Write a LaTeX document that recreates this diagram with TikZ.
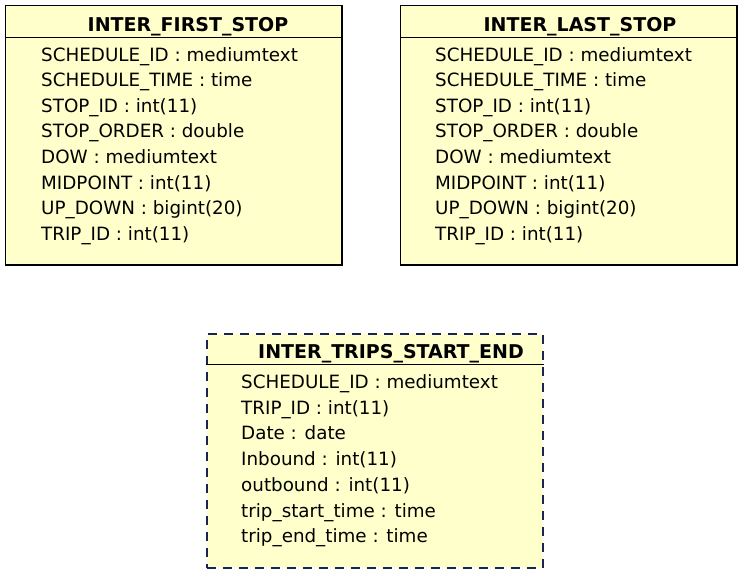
\documentclass[tikz,border=0pt]{standalone}
\usepackage{fontspec}
\setmainfont{DejaVu Sans}
\definecolor{tblFill}{RGB}{255,255,204}
\definecolor{tblDash}{RGB}{25,35,85}

\begin{document}
\begin{tikzpicture}[x=1pt,y=-1pt]
 \tikzset{
  tblBox/.style={rectangle, draw=black, fill=tblFill, line width=0.8pt, anchor=north west, minimum width=336pt},
  tblHead/.style={anchor=base, font=\fontsize{19}{22}\selectfont\bfseries, inner sep=0pt},
  tblAttr/.style={anchor=base west, font=\fontsize{18.3}{22}\selectfont, inner sep=0pt}
  }
  \useasboundingbox (0,0) rectangle (742,574);

  % first stop table
  \node[tblBox, minimum height=259pt] (fsBox) at (5,5) {};
  \draw[line width=2pt] (fsBox.north east) -- (fsBox.south east) -- (fsBox.south west);
  \draw[line width=0.8pt] ([yshift=-32pt]fsBox.north west) -- ([yshift=-32pt]fsBox.north east);
  \node[tblHead] (fsHead) at (188,31) {INTER\_FIRST\_STOP};
  \foreach \txt [count=\i] in {SCHEDULE\_ID : mediumtext, SCHEDULE\_TIME : time,
    STOP\_ID : int(11), STOP\_ORDER : double, DOW : mediumtext, MIDPOINT : int(11),
    UP\_DOWN : bigint(20), TRIP\_ID : int(11)}
    \node[tblAttr] (fs\i) at (41,35.4+25.6*\i) {\txt};

  % last stop table
  \node[tblBox, minimum height=259pt] (lsBox) at (400,5) {};
  \draw[line width=2pt] (lsBox.north east) -- (lsBox.south east) -- (lsBox.south west);
  \draw[line width=0.8pt] ([yshift=-32pt]lsBox.north west) -- ([yshift=-32pt]lsBox.north east);
  \node[tblHead] (lsHead) at (580,31) {INTER\_LAST\_STOP};
  \foreach \txt [count=\i] in {SCHEDULE\_ID : mediumtext, SCHEDULE\_TIME : time,
    STOP\_ID : int(11), STOP\_ORDER : double, DOW : mediumtext, MIDPOINT : int(11),
    UP\_DOWN : bigint(20), TRIP\_ID : int(11)}
    \node[tblAttr] (ls\i) at (435,35.4+25.6*\i) {\txt};

  % trips start/end table
  \node[tblBox, minimum height=234pt, draw=tblDash, line width=1.6pt,
    dash pattern=on 9pt off 7pt] (teBox) at (206,333) {};
  \draw[line width=0.8pt] ([yshift=-31pt]teBox.north west) -- ([yshift=-31pt]teBox.north east);
  \node[tblHead] (teHead) at (391,358.5) {INTER\_TRIPS\_START\_END};
  \foreach \txt [count=\i] in {SCHEDULE\_ID : mediumtext, TRIP\_ID : int(11),
    Date : date, Inbound : int(11), outbound : int(11), trip\_start\_time : time,
    trip\_end\_time : time}
    \node[tblAttr] (te\i) at (241,362.8+25.7*\i) {\txt};

\end{tikzpicture}
\end{document}
